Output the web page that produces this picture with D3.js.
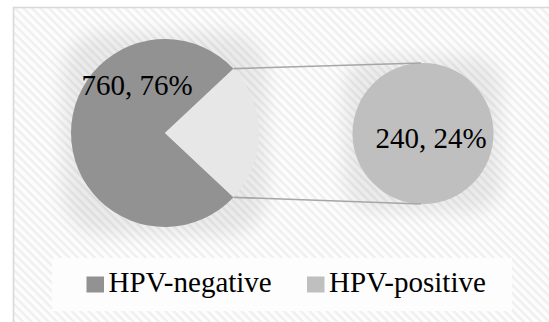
<!DOCTYPE html>
<html><head><meta charset="utf-8">
<script src="https://cdn.jsdelivr.net/npm/d3@7"></script>
<style>html,body{margin:0;padding:0;background:#fff;}svg{display:block;}</style>
</head><body>
<script>
const categories = ["HPV-negative", "HPV-positive"];
const values = [760, 240];
const percents = [76, 24];
const secondaryValues = [240];

const W = 549, H = 322;
const colors = {neg: "#929292", other: "#e7e7e7", pos: "#bfbfbf"};
const font = "'Liberation Serif','Times New Roman',serif";

const svg = d3.select("body").append("svg").attr("width", W).attr("height", H);
const defs = svg.append("defs");
const pat = defs.append("pattern").attr("id", "hatch").attr("patternUnits", "userSpaceOnUse")
  .attr("width", 6).attr("height", 6).attr("patternTransform", "rotate(45)");
pat.append("rect").attr("width", 6).attr("height", 6).attr("fill", "#fdfdfd");
pat.append("rect").attr("width", 6).attr("height", 2.4).attr("fill", "#efefef");
const blur = defs.append("filter").attr("id", "glow").attr("x", "-50%").attr("y", "-50%").attr("width", "200%").attr("height", "200%");
blur.append("feGaussianBlur").attr("stdDeviation", 9);

// frame
svg.append("rect").attr("x", 13.5).attr("y", 7.5).attr("width", W).attr("height", H)
  .attr("fill", "url(#hatch)").attr("stroke", "#d9d9d9").attr("stroke-width", 1.6);

const total = d3.sum(values);
const fracOther = values[1] / total;

const c1 = {x: 165, y: 133, r: 94};
const c2 = {x: 423, y: 133.5, r: 70.5};

const pie1 = d3.pie().sort(null)
  .startAngle(Math.PI / 2 + fracOther * Math.PI)
  .endAngle(Math.PI / 2 + fracOther * Math.PI + 2 * Math.PI);
const arcs1 = pie1(values);
const arc1 = d3.arc().innerRadius(0).outerRadius(c1.r);

// shadows
svg.append("rect").attr("x", c1.x - c1.r - 8).attr("y", c1.y - c1.r - 6).attr("width", 2 * c1.r + 16).attr("height", 2 * c1.r + 14)
  .attr("rx", 40).attr("fill", "#000").attr("opacity", 0.07).attr("filter", "url(#glow)");
svg.append("rect").attr("x", c2.x - c2.r - 8).attr("y", c2.y - c2.r - 6).attr("width", 2 * c2.r + 16).attr("height", 2 * c2.r + 14)
  .attr("rx", 30).attr("fill", "#000").attr("opacity", 0.07).attr("filter", "url(#glow)");

const g1 = svg.append("g").attr("transform", `translate(${c1.x},${c1.y})`);
g1.selectAll("path").data(arcs1).join("path")
  .attr("d", arc1)
  .attr("fill", (d, i) => i === 0 ? colors.neg : colors.other);

// secondary pie
const pie2 = d3.pie().sort(null);
const arc2 = d3.arc().innerRadius(0).outerRadius(c2.r);
const g2 = svg.append("g").attr("transform", `translate(${c2.x},${c2.y})`);
g2.selectAll("path").data(pie2(secondaryValues)).join("path")
  .attr("d", arc2).attr("fill", colors.pos);

// connector lines
const oth = arcs1[1];
const pt = a => [c1.x + c1.r * Math.sin(a), c1.y - c1.r * Math.cos(a)];
const top1 = pt(oth.startAngle), bot1 = pt(oth.endAngle);
const lines = [[top1, [c2.x - 2, c2.y - c2.r]], [bot1, [c2.x - 2, c2.y + c2.r]]];
svg.selectAll("line.conn").data(lines).join("line").attr("class", "conn")
  .attr("x1", d => d[0][0]).attr("y1", d => d[0][1])
  .attr("x2", d => d[1][0]).attr("y2", d => d[1][1])
  .attr("stroke", "#a6a6a6").attr("stroke-width", 1.6);

// labels
svg.append("text").attr("x", c1.x - 28).attr("y", c1.y - 38).attr("text-anchor", "middle")
  .attr("font-family", font).attr("font-size", 29).attr("fill", "#000")
  .text(`${values[0]}, ${percents[0]}%`);
svg.append("text").attr("x", c2.x + 8).attr("y", c2.y + 14).attr("text-anchor", "middle")
  .attr("font-family", font).attr("font-size", 29).attr("fill", "#000")
  .text(`${values[1]}, ${percents[1]}%`);

// legend
svg.append("rect").attr("x", 52).attr("y", 258).attr("width", 460).attr("height", 53).attr("fill", "#fdfdfd");
const legX = [86.5, 307];
const lg = svg.selectAll("g.leg").data(categories).join("g").attr("class", "leg")
  .attr("transform", (d, i) => `translate(${legX[i]},0)`);
lg.append("rect").attr("x", 0).attr("y", 276.5).attr("width", 17.5).attr("height", 16)
  .attr("fill", (d, i) => i === 0 ? colors.neg : colors.pos);
lg.append("text").attr("x", 22).attr("y", 291.5).attr("font-family", font).attr("font-size", 29)
  .attr("fill", "#000").text(d => d);
</script>
</body></html>
